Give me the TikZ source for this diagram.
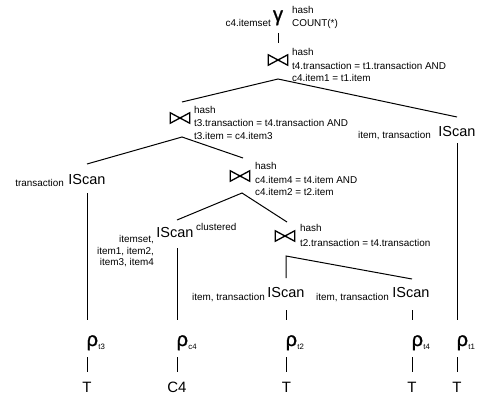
\documentclass[tikz,border=0pt]{standalone}
\usepackage{fontspec}
\setmainfont{Liberation Sans}
\newfontfamily\greekfont[FakeBold=1.2]{Liberation Sans}
\newcommand\joinmark[1]{\draw[bowline] (#1.north west) -- (#1.south west) -- (#1.north east) -- (#1.south east) -- cycle;}
\begin{document}
\begin{tikzpicture}[x=1pt,y=-1pt,
  lbl/.style={inner sep=0pt, font=\fontsize{9.9}{11}\selectfont},
  scan/.style={inner sep=0pt, font=\fontsize{14.5}{16}\selectfont},
  rel/.style={inner sep=0pt, font=\fontsize{15}{17}\selectfont},
  greek/.style={inner sep=0pt, font=\greekfont\fontsize{20}{22}\selectfont, anchor=base west},
  subl/.style={inner sep=0pt, font=\fontsize{7.8}{9}\selectfont, anchor=base west, yshift=-3.5pt},
  joinnode/.style={inner sep=0pt, minimum width=19pt, minimum height=10pt},
  bowline/.style={line width=1.3pt, line join=miter},
  edge/.style={line width=1pt}]
\useasboundingbox (0,0) rectangle (484,396);

% gamma
\node[inner sep=0pt, anchor=base, font=\greekfont\fontsize{20}{22}\selectfont] (G) at (278,21) {γ};
\node[lbl,anchor=east] (Gk) at (271,23) {c4.itemset};
\node[lbl,anchor=west] (Gh) at (292,10) {hash};
\node[lbl,anchor=west] (Ga) at (292,24) {COUNT(*)};

% top join
\node[joinnode] (J1) at (278,60) {};
\joinmark{J1}
\node[lbl,anchor=west] (J1h) at (292,52) {hash};
\node[lbl,anchor=west] (J1a) at (292,66) {t4.transaction = t1.transaction AND};
\node[lbl,anchor=west] (J1c) at (292,78) {c4.item1 = t1.item};

% J2
\node[joinnode] (J2) at (180,118) {};
\joinmark{J2}
\node[lbl,anchor=west] (J2h) at (194,110) {hash};
\node[lbl,anchor=west] (J2a) at (194,123) {t3.transaction = t4.transaction AND};
\node[lbl,anchor=west] (J2c) at (194,136) {t3.item = c4.item3};

% J3
\node[joinnode] (J3) at (240,176) {};
\joinmark{J3}
\node[lbl,anchor=west] (J3h) at (255,166) {hash};
\node[lbl,anchor=west] (J3a) at (255,180) {c4.item4 = t4.item AND};
\node[lbl,anchor=west] (J3c) at (255,192) {c4.item2 = t2.item};

% J4
\node[joinnode] (J4) at (285,236) {};
\joinmark{J4}
\node[lbl,anchor=west] (J4h) at (300,228) {hash};
\node[lbl,anchor=west] (J4a) at (300,243) {t2.transaction = t4.transaction};

% scans
\node[scan] (IS1) at (457,132) {IScan};
\node[lbl,anchor=east] (IS1l) at (431,136) {item, transaction};
\node[scan] (IS3) at (87,180) {IScan};
\node[lbl,anchor=east] (IS3l) at (64,183) {transaction};
\node[scan] (ISc4) at (175,233) {IScan};
\node[lbl,anchor=west] (ISc4c) at (196,227) {clustered};
\node[lbl,anchor=east] (ISc4a) at (154,240) {itemset,};
\node[lbl,anchor=east] (ISc4b) at (154,252) {item1, item2,};
\node[lbl,anchor=east] (ISc4d) at (154,263) {item3, item4};
\node[scan] (IS2) at (286,293) {IScan};
\node[lbl,anchor=east] (IS2l) at (265,298) {item, transaction};
\node[scan] (IS4) at (411,293) {IScan};
\node[lbl,anchor=east] (IS4l) at (389,298) {item, transaction};

% rho
\node[greek] (rt3) at (86.5,346) {ρ};
\node[subl] (rt3s) at (rt3.base east) {t3};
\node[greek] (rc4) at (176.5,346) {ρ};
\node[subl] (rc4s) at (rc4.base east) {c4};
\node[greek] (rt2) at (285.5,346) {ρ};
\node[subl] (rt2s) at (rt2.base east) {t2};
\node[greek] (rt4) at (411.5,346) {ρ};
\node[subl] (rt4s) at (rt4.base east) {t4};
\node[greek] (rt1) at (456.5,346) {ρ};
\node[subl] (rt1s) at (rt1.base east) {t1};

% relations
\node[rel] (T3) at (87,387) {T};
\node[rel] (C4) at (177,387) {C4};
\node[rel] (T2) at (286.5,387) {T};
\node[rel] (T4) at (412,387) {T};
\node[rel] (T1) at (457,387) {T};

% connector end points
\coordinate (Gb) at (278,33);  \coordinate (J1t) at (278,43);
\coordinate (J1b) at (278,79); \coordinate (J2t) at (182,102); \coordinate (IS1t) at (457,117);
\coordinate (J2b) at (182,137); \coordinate (IS3t) at (87,164); \coordinate (J3t) at (243,158);
\coordinate (J3b) at (242,193); \coordinate (ISc4t) at (177,220); \coordinate (J4t) at (287,222);
\coordinate (J4b) at (286,256); \coordinate (IS2t) at (286,278); \coordinate (IS4t) at (412,279);
\coordinate (IS1b) at (457,143); \coordinate (rt1t) at (457,320);
\coordinate (IS3b) at (87,193); \coordinate (rt3t) at (87,320);
\coordinate (ISc4b) at (177,248); \coordinate (rc4t) at (177,320);
\coordinate (IS2b) at (286,310); \coordinate (rt2t) at (286,320);
\coordinate (IS4b) at (412,310); \coordinate (rt4t) at (412,320);
\coordinate (rt3b) at (87,357); \coordinate (T3t) at (87,372);
\coordinate (rc4b) at (177,357); \coordinate (C4t) at (177,372);
\coordinate (rt2b) at (286,357); \coordinate (T2t) at (286,372);
\coordinate (rt4b) at (412,357); \coordinate (T4t) at (412,372);
\coordinate (rt1b) at (457,357); \coordinate (T1t) at (457,372);

\draw[edge] (Gb) -- (J1t);
\draw[edge] (J2t) -- (J1b) -- (IS1t);
\draw[edge] (IS3t) -- (J2b) -- (J3t);
\draw[edge] (ISc4t) -- (J3b) -- (J4t);
\draw[edge] (IS2t) -- (J4b) -- (IS4t);
\draw[edge] (IS1b) -- (rt1t);
\draw[edge] (IS3b) -- (rt3t);
\draw[edge] (ISc4b) -- (rc4t);
\draw[edge] (IS2b) -- (rt2t);
\draw[edge] (IS4b) -- (rt4t);
\draw[edge] (rt3b) -- (T3t);
\draw[edge] (rc4b) -- (C4t);
\draw[edge] (rt2b) -- (T2t);
\draw[edge] (rt4b) -- (T4t);
\draw[edge] (rt1b) -- (T1t);
\end{tikzpicture}
\end{document}
